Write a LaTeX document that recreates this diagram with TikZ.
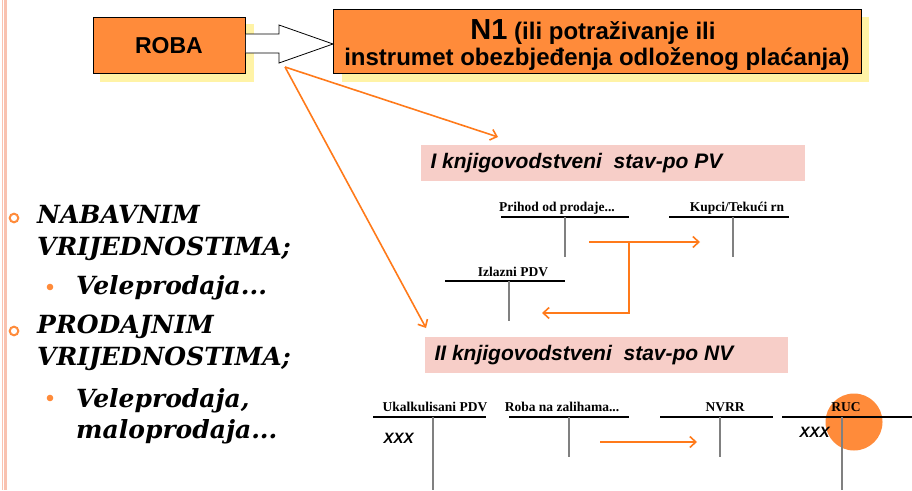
\documentclass[tikz,border=0pt]{standalone}
\usepackage{fontspec}
\newfontfamily\arialfnt{Liberation Sans}
\newfontfamily\timesfnt{Liberation Serif}
\newfontfamily\bulfnt{DejaVu Serif}
\usetikzlibrary{arrows.meta}
\definecolor{boxorange}{HTML}{FF8B3A}
\definecolor{shadowyel}{HTML}{FFF3A6}
\definecolor{pinkbox}{HTML}{F7CEC8}
\definecolor{edgepink}{HTML}{F9C2B0}
\definecolor{arrorange}{HTML}{FF7A1A}
\tikzset{
  orbox/.style={draw=black, line width=0.8pt, fill=boxorange, inner sep=0pt, anchor=north west},
  boxtext/.style={font=\arialfnt\bfseries\fontsize{23}{26}\selectfont, anchor=base, inner sep=0pt},
  shadowbox/.style={fill=shadowyel, draw=none},
  stavbox/.style={fill=pinkbox, draw=none, inner sep=0pt, anchor=north west},
  stavtext/.style={font=\arialfnt\bfseries\itshape\fontsize{21}{24}\selectfont, anchor=west},
  acctitle/.style={font=\timesfnt\bfseries\fontsize{13.5}{15}\selectfont, anchor=base},
  accline/.style={line width=1.2pt, black},
  accvert/.style={line width=1.6pt, gray},
  orarrow/.style={draw=arrorange, line width=1.6pt, -{Straight Barb[length=6pt,width=11pt]}},
  xxx/.style={font=\arialfnt\bfseries\itshape\fontsize{15}{17}\selectfont, anchor=base west},
  bultext/.style={font=\bulfnt\bfseries\itshape\fontsize{25}{28}\selectfont, anchor=base west, inner sep=0pt},
  bulring/.style={draw=boxorange, line width=2pt, fill=none},
  buldot/.style={fill=boxorange, draw=none}
}
\begin{document}
\begin{tikzpicture}[x=1pt,y=-1pt]
\useasboundingbox (0,0) rectangle (912,490);
\fill[white] (0,0) rectangle (912,490);
% left edge lines
\draw[edgepink, line width=1pt] (2.5,0) -- (2.5,490);
\draw[edgepink, line width=3pt] (5.5,0) -- (5.5,490);

% ROBA box
\fill[shadowbox] (100,24) rectangle (254,82);
\node[orbox, minimum width=152pt, minimum height=56pt] (roba) at (93,17) {};
\node[boxtext] (robat) at (169,53) {ROBA};

% N1 box
\fill[shadowbox] (342,17) rectangle (869,82);
\node[orbox, minimum width=528pt, minimum height=64pt] (n1) at (333,9) {};
\node[boxtext, font=\arialfnt\bfseries\fontsize{24}{26}\selectfont] (n1a) at (593,39) {{\fontsize{29}{30}\selectfont N1} (ili potraživanje ili};
\node[boxtext, font=\arialfnt\bfseries\fontsize{24}{26}\selectfont] (n1b) at (597,65) {instrumet obezbjeđenja odloženog plaćanja)};

% hollow arrow
\draw[black, line width=0.8pt, fill=white] (roba.east |- 0,34) -- (279,34) -- (279,25) -- (n1.west |- 0,44) -- (279,63) -- (279,53) -- (roba.east |- 0,53);

% orange arrows from ROBA area
\coordinate (src) at (285,67);
\coordinate (t1) at (498,137);
\coordinate (t2) at (426,328);
\draw[orarrow] (src) -- (t1);
\draw[orarrow] (src) -- (t2);

% I stav
\node[stavbox, minimum width=384pt, minimum height=36pt] (stav1) at (421,145) {};
\node[stavtext] (stav1t) at (427,163) {I knjigovodstveni\ \ stav-po PV};

% accounts I
\node[acctitle] (prihod) at (557,211) {Prihod od prodaje...};
\coordinate (ph1) at (501,217); \coordinate (ph2) at (629,217);
\draw[accline] (ph1) -- (ph2);
\coordinate (pv1) at (565,217); \coordinate (pv2) at (565,257);
\draw[accvert] (pv1) -- (pv2);

\node[acctitle] (kupci) at (737,211) {Kupci/Tekući rn};
\coordinate (kh1) at (669,217); \coordinate (kh2) at (789,217);
\draw[accline] (kh1) -- (kh2);
\coordinate (kv1) at (733,217); \coordinate (kv2) at (733,257);
\draw[accvert] (kv1) -- (kv2);

\node[acctitle] (izlazni) at (513,276) {Izlazni PDV};
\coordinate (ih1) at (445,281); \coordinate (ih2) at (565,281);
\draw[accline] (ih1) -- (ih2);
\coordinate (iv1) at (509,281); \coordinate (iv2) at (509,321);
\draw[accvert] (iv1) -- (iv2);

\coordinate (a1s) at (589,242);
\coordinate (a1j) at (629,242);
\coordinate (a1e) at (700,242);
\coordinate (a2c) at (629,313);
\coordinate (a2e) at (542,313);
\draw[orarrow] (a1s) -- (a1e);
\draw[orarrow] (a1j) -- (a2c) -- (a2e);

% II stav
\node[stavbox, minimum width=363pt, minimum height=36pt] (stav2) at (425,337) {};
\node[stavtext] (stav2t) at (431,355) {II knjigovodstveni\ \ stav-po NV};

% accounts II
\node[acctitle] (ukalk) at (435,411) {Ukalkulisani PDV};
\coordinate (uh1) at (373,417); \coordinate (uh2) at (486,417);
\draw[accline] (uh1) -- (uh2);
\coordinate (uv1) at (433,417); \coordinate (uv2) at (433,490);
\draw[accvert] (uv1) -- (uv2);
\node[xxx] (x1) at (380,443) {XXX};

\node[acctitle] (roban) at (562,411) {Roba na zalihama...};
\coordinate (rh1) at (509,417); \coordinate (rh2) at (629,417);
\draw[accline] (rh1) -- (rh2);
\coordinate (rv1) at (569,417); \coordinate (rv2) at (569,457);
\draw[accvert] (rv1) -- (rv2);

\coordinate (a3s) at (600,442);
\coordinate (a3e) at (697,442);
\draw[orarrow] (a3s) -- (a3e);

\node[acctitle] (nvrr) at (725,411) {NVRR};
\coordinate (nh1) at (660,417); \coordinate (nh2) at (773,417);
\draw[accline] (nh1) -- (nh2);
\coordinate (nv1) at (720,417); \coordinate (nv2) at (720,457);
\draw[accvert] (nv1) -- (nv2);

% RUC
\fill[boxorange] (854,422) circle (28.5);
\node[acctitle] (ruc) at (846,411) {RUC};
\coordinate (ch1) at (782,417); \coordinate (ch2) at (912,417);
\draw[accline] (ch1) -- (ch2);
\coordinate (cv1) at (842,417); \coordinate (cv2) at (842,490);
\draw[accvert] (cv1) -- (cv2);
\node[xxx] (x2) at (796,437) {XXX};

% bullets
\draw[bulring] (14,218) circle (4.3);
\node[bultext] (b1a) at (37,223) {NABAVNIM};
\node[bultext] (b1b) at (37,255) {VRIJEDNOSTIMA;};
\fill[buldot] (50,287) circle (3.3);
\node[bultext] (b2) at (76,294) {Veleprodaja...};
\draw[bulring] (14,331) circle (4.3);
\node[bultext] (b3a) at (37,333) {PRODAJNIM};
\node[bultext] (b3b) at (37,365) {VRIJEDNOSTIMA;};
\fill[buldot] (50,398) circle (3.3);
\node[bultext] (b4a) at (76,407) {Veleprodaja,};
\node[bultext] (b4b) at (76,438) {maloprodaja...};
\end{tikzpicture}
\end{document}
